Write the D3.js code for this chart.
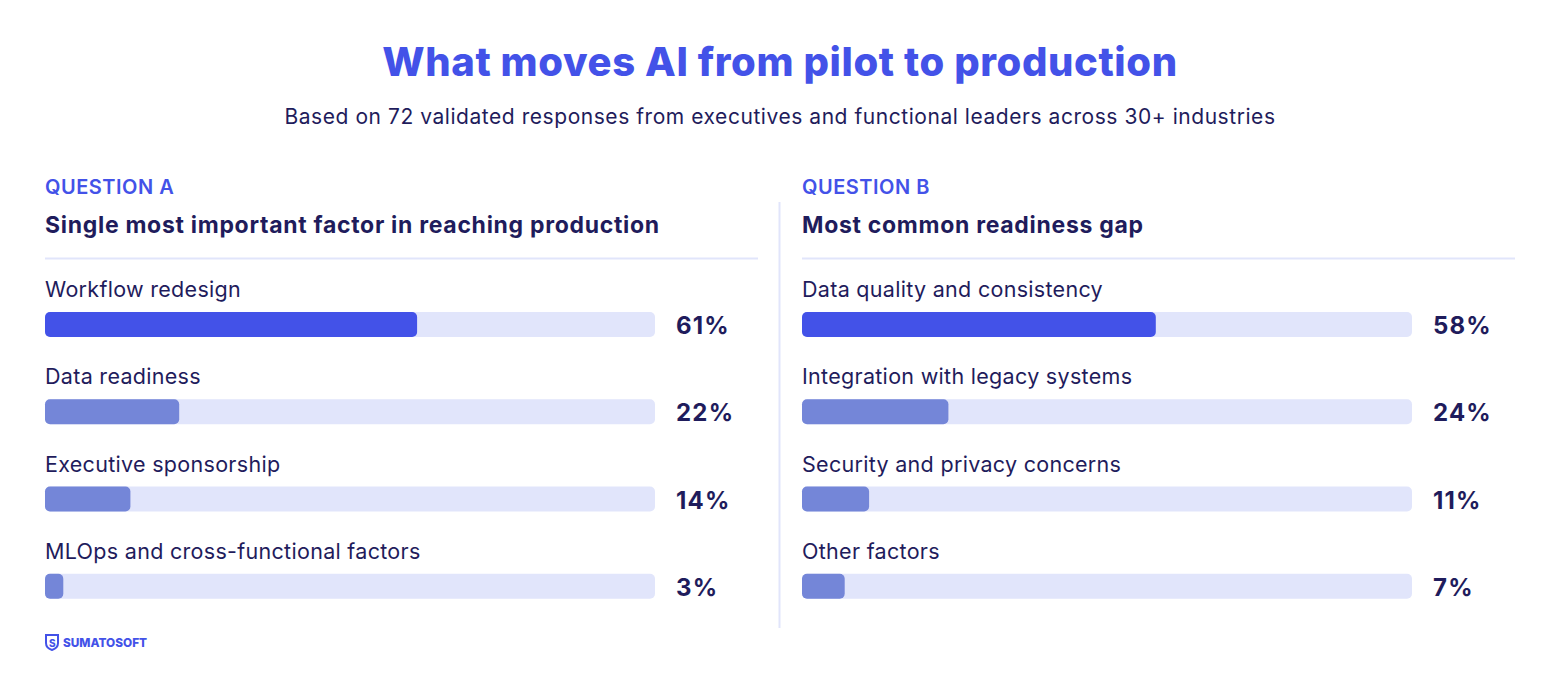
<!DOCTYPE html>
<html>
<head>
<meta charset="utf-8">
<script src="https://cdn.jsdelivr.net/npm/d3@7"></script>
<style>
  body { margin: 0; background: #fff; }
  svg { font-family: Inter, "Noto Sans", sans-serif; }
</style>
</head>
<body>
<script>
const questionA = ['Workflow redesign', 'Data readiness', 'Executive sponsorship', 'MLOps and cross-functional factors'];
const valuesA = [61, 22, 14, 3];
const questionB = ['Data quality and consistency', 'Integration with legacy systems', 'Security and privacy concerns', 'Other factors'];
const valuesB = [58, 24, 11, 7];

const width = 1560, height = 691;
const navy = '#1f1c5c', blue = '#4352e8', soft = '#7486d8', track = '#e1e5fb';

const svg = d3.select('body').append('svg')
  .attr('width', width)
  .attr('height', height);

svg.append('text').attr('x', width / 2).attr('y', 76).attr('text-anchor', 'middle')
  .attr('font-size', 40).attr('font-weight', 800).attr('fill', blue).attr('letter-spacing', 0.6)
  .text('What moves AI from pilot to production');
svg.append('text').attr('x', width / 2).attr('y', 124).attr('text-anchor', 'middle')
  .attr('font-size', 21).attr('fill', navy).attr('letter-spacing', 0.55)
  .text('Based on 72 validated responses from executives and functional leaders across 30+ industries');

// vertical divider
svg.append('line').attr('x1', 779.5).attr('x2', 779.5).attr('y1', 202).attr('y2', 628)
  .attr('stroke', track).attr('stroke-width', 2);

function panel(x0, tag, heading, cats, vals) {
  const g = svg.append('g').attr('transform', `translate(${x0},0)`);
  g.append('text').attr('x', 0).attr('y', 194).attr('font-size', 20).attr('font-weight', 600)
    .attr('fill', blue).attr('letter-spacing', 0.5).text(tag);
  g.append('text').attr('x', 0).attr('y', 233).attr('font-size', 23).attr('font-weight', 700)
    .attr('fill', navy).attr('letter-spacing', 0.7).text(heading);
  g.append('line').attr('x1', 0).attr('x2', 713).attr('y1', 258.5).attr('y2', 258.5)
    .attr('stroke', track).attr('stroke-width', 2);

  const x = d3.scaleLinear().domain([0, 100]).range([0, 610]);
  const y = d3.scaleBand().domain(cats).range([278, 627]);

  const row = g.selectAll('g.row').data(cats).enter().append('g').attr('class', 'row')
    .attr('transform', d => `translate(0,${y(d)})`);
  row.append('text').attr('x', 0).attr('y', 19).attr('font-size', 21.5).attr('fill', navy)
    .attr('letter-spacing', 0.3).text(d => d);
  row.append('rect').attr('x', 0).attr('y', 34).attr('height', 25).attr('rx', 5)
    .attr('width', x(100)).attr('fill', track);
  row.append('rect').attr('x', 0).attr('y', 34).attr('height', 25).attr('rx', 5)
    .attr('width', (d, i) => x(vals[i])).attr('fill', (d, i) => i === 0 ? blue : soft);
  row.append('text').attr('x', x(100) + 21).attr('y', 56).attr('font-size', 24).attr('font-weight', 700)
    .attr('fill', navy).attr('letter-spacing', 1.2).text((d, i) => vals[i] + '%');
}

panel(45, 'QUESTION A', 'Single most important factor in reaching production', questionA, valuesA);
panel(802, 'QUESTION B', 'Most common readiness gap', questionB, valuesB);

// logo
const logo = svg.append('g').attr('transform', 'translate(45,634)');
logo.append('path').attr('d', 'M1,1 L13,1 L13,9 Q13,14 7,16 Q1,14 1,9 Z')
  .attr('fill', 'none').attr('stroke', blue).attr('stroke-width', 2);
logo.append('text').attr('x', 4).attr('y', 12.5).attr('font-size', 10).attr('font-weight', 800)
  .attr('fill', blue).text('S');
logo.append('text').attr('x', 18).attr('y', 13).attr('font-size', 11.8).attr('font-weight', 800)
  .attr('fill', blue).text('SUMATOSOFT');
</script>
</body>
</html>
